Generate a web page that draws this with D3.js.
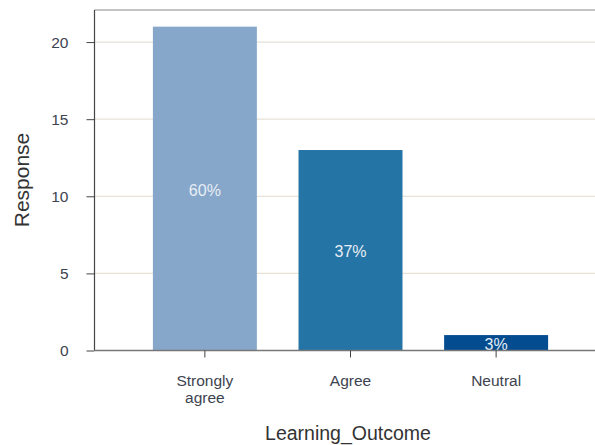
<!DOCTYPE html>
<html><head><meta charset="utf-8">
<script src="https://cdn.jsdelivr.net/npm/d3@7"></script>
<style>body{margin:0;background:#fff}svg{display:block;font-family:"Liberation Sans",Arial,sans-serif}</style>
</head><body><svg id="c" width="595" height="445"></svg>
<script>
const categories = [["Strongly","agree"],["Agree"],["Neutral"]];
const values = [21, 13, 1];
const percents = ["60%","37%","3%"];
const colors = ["#86a7c9","#2574a6","#034c8f"];
const yTicks = [0,5,10,15,20];

const svg = d3.select("#c");
const L = 94.5, T = 10, B = 350.5, R = 606.5;
const x = d3.scaleBand().domain(categories.map(d=>d.join(" "))).range([L,R]).paddingInner(0.286).paddingOuter(0.401);
const y = d3.scaleLinear().domain([0,22.08]).range([B,T]);

// grid
svg.append("g").selectAll("line").data(yTicks.filter(d=>d>0)).join("line")
  .attr("x1",L).attr("x2",595).attr("y1",d=>y(d)).attr("y2",d=>y(d))
  .attr("stroke","#e6e2d6").attr("stroke-width",1.2);
// top border
svg.append("line").attr("x1",L).attr("x2",595).attr("y1",T).attr("y2",T).attr("stroke","#8a8a8a").attr("stroke-width",1.2);

// bars
svg.append("g").selectAll("rect").data(values).join("rect")
  .attr("x",(d,i)=>x(categories[i].join(" "))).attr("width",x.bandwidth())
  .attr("y",d=>y(d)).attr("height",d=>B-y(d))
  .attr("fill",(d,i)=>colors[i]);
svg.append("g").selectAll("text").data(values).join("text")
  .attr("x",(d,i)=>x(categories[i].join(" "))+x.bandwidth()/2)
  .attr("y",d=>(y(d)+B)/2+7).attr("text-anchor","middle")
  .attr("fill","#e8eef5").attr("font-size",16).text((d,i)=>percents[i]);

// y axis
const ya = svg.append("g").attr("transform",`translate(${L},0)`)
  .call(d3.axisLeft(y).tickValues(yTicks).tickSize(8).tickPadding(18));
ya.select(".domain").attr("d",`M0,${T}V${B}`).attr("stroke","#444").attr("stroke-width",1.2);
ya.selectAll(".tick line").attr("stroke","#444");
ya.selectAll(".tick text").attr("font-size",15.5).attr("fill","#3d4350").attr("font-family","Liberation Sans, Arial, sans-serif");

// x axis
const xa = svg.append("g").attr("transform",`translate(0,${B})`)
  .call(d3.axisBottom(x).tickSize(7).tickFormat(""));
xa.select(".domain").attr("d",`M${L},0H595`).attr("stroke","#777").attr("stroke-width",1.5);
xa.selectAll(".tick line").attr("stroke","#444");
xa.selectAll(".tick").each(function(d,i){
  const t = d3.select(this).append("text").attr("fill","#3d4350").attr("font-size",15.5)
    .attr("text-anchor","middle").attr("font-family","Liberation Sans, Arial, sans-serif");
  categories[i].forEach((s,j)=>t.append("tspan").attr("x",0).attr("y",35.5+j*17).text(s));
});

svg.append("text").attr("x",348).attr("y",440).attr("text-anchor","middle")
  .attr("font-size",19.5).attr("fill","#333").text("Learning_Outcome");
svg.append("text").attr("transform","translate(29,180) rotate(-90)").attr("text-anchor","middle")
  .attr("font-size",21).attr("fill","#333").text("Response");
</script></body></html>
